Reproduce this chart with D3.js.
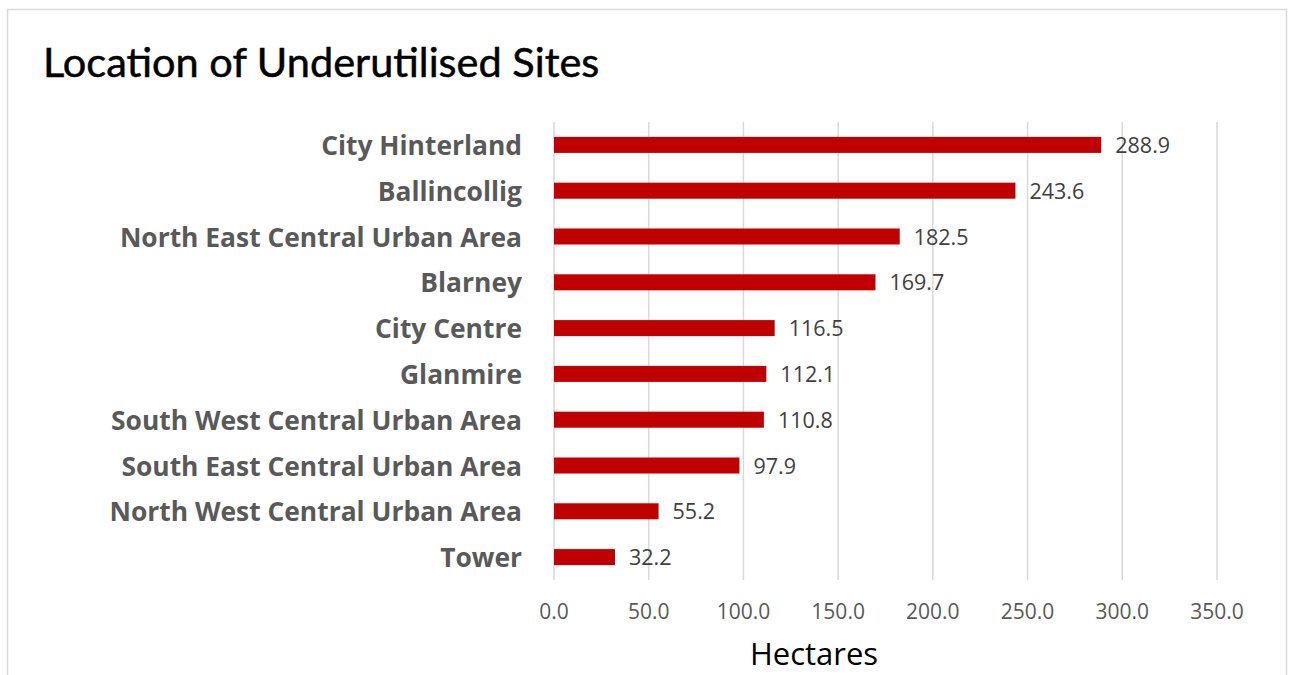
<!DOCTYPE html>
<html>
<head>
<meta charset="utf-8">
<script src="https://cdn.jsdelivr.net/npm/d3@7"></script>
<style>
  body { margin: 0; background: #fff; }
</style>
</head>
<body>
<div id="chart"></div>
<script>
// chart data
const categories = ["City Hinterland", "Ballincollig", "North East Central Urban Area", "Blarney",
    "City Centre", "Glanmire", "South West Central Urban Area", "South East Central Urban Area",
    "North West Central Urban Area", "Tower"];
const hectares = [288.9, 243.6, 182.5, 169.7, 116.5, 112.1, 110.8, 97.9, 55.2, 32.2];
const xTicks = [0, 50, 100, 150, 200, 250, 300, 350];

const W = 1291, H = 675;
// plot area
const plot = { left: 554, right: 1217, top: 122, bottom: 580 };

const svg = d3.select("#chart")
    .append("svg")
    .attr("width", W)
    .attr("height", H);

// chart frame
svg.append("rect")
    .attr("x", 7.5).attr("y", 9.5)
    .attr("width", 1279).attr("height", 700)
    .attr("fill", "#fff")
    .attr("stroke", "#d9d9d9")
    .attr("stroke-width", 1.5);

// title
svg.append("text")
    .attr("x", 43)
    .attr("y", 77)
    .attr("font-family", "Lato, sans-serif")
    .attr("font-size", "41.5px")
    .attr("fill", "#000")
    .attr("stroke", "#000")
    .attr("stroke-width", 0.5)
    .text("Location of Underutilised Sites");

const x = d3.scaleLinear()
    .domain([0, 350])
    .range([plot.left, plot.right]);

const y = d3.scaleBand()
    .domain(categories)
    .range([plot.top, plot.bottom])
    .paddingInner(0.65)
    .paddingOuter(0.325);

// gridlines
svg.append("g")
    .selectAll("line")
    .data(xTicks)
    .join("line")
        .attr("x1", d => x(d)).attr("x2", d => x(d))
        .attr("y1", plot.top).attr("y2", plot.bottom)
        .attr("stroke", "#d9d9d9")
        .attr("stroke-width", 1.5);

// x tick labels
svg.append("g")
    .selectAll("text")
    .data(xTicks)
    .join("text")
        .attr("x", d => x(d))
        .attr("y", 612)
        .attr("dy", "0.35em")
        .attr("text-anchor", "middle")
        .attr("font-family", "'Open Sans', sans-serif")
        .attr("font-size", "21px")
        .attr("fill", "#595959")
        .text(d => d.toFixed(1));

const data = categories.map((c, i) => ({ name: c, value: hectares[i] }));

// bars
svg.append("g")
    .selectAll("rect")
    .data(data)
    .join("rect")
        .attr("x", x(0))
        .attr("y", d => y(d.name))
        .attr("width", d => x(d.value) - x(0))
        .attr("height", y.bandwidth())
        .attr("fill", "#c00000");

// category labels
svg.append("g")
    .selectAll("text")
    .data(data)
    .join("text")
        .attr("x", 522)
        .attr("y", d => y(d.name) + y.bandwidth() / 2)
        .attr("dy", "0.38em")
        .attr("text-anchor", "end")
        .attr("font-family", "'Open Sans', sans-serif")
        .attr("font-weight", "bold")
        .attr("font-size", "26.4px")
        .attr("fill", "#595959")
        .text(d => d.name);

// value labels
svg.append("g")
    .selectAll("text")
    .data(data)
    .join("text")
        .attr("x", d => x(d.value) + 14)
        .attr("y", d => y(d.name) + y.bandwidth() / 2)
        .attr("dy", "0.38em")
        .attr("font-family", "'Open Sans', sans-serif")
        .attr("font-size", "21.5px")
        .attr("fill", "#404040")
        .text(d => d.value.toFixed(1));

// axis title
svg.append("text")
    .attr("x", 814)
    .attr("y", 665)
    .attr("text-anchor", "middle")
    .attr("font-family", "'Open Sans', sans-serif")
    .attr("font-size", "31px")
    .attr("fill", "#000")
    .text("Hectares");
</script>
</body>
</html>
